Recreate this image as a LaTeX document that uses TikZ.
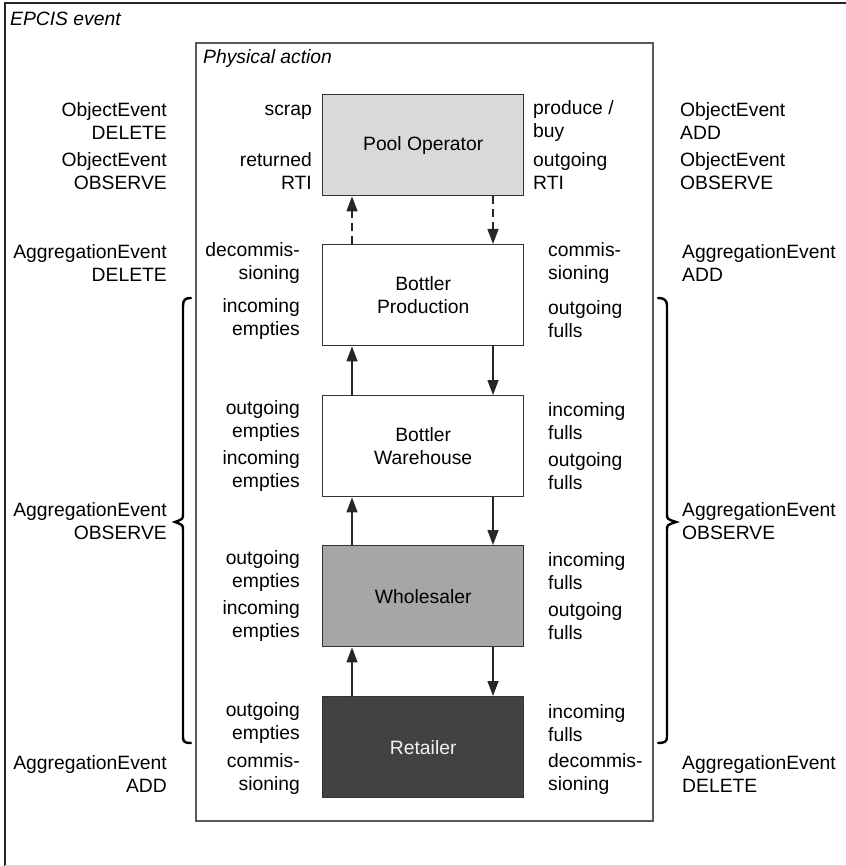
\documentclass[tikz,border=0pt]{standalone}
\usepackage{fontspec}
\setmainfont{Liberation Sans}
\usetikzlibrary{arrows.meta}
\definecolor{poolgray}{HTML}{D9D9D9}
\definecolor{wholegray}{HTML}{A6A6A6}
\definecolor{retailgray}{HTML}{424242}
\definecolor{edgegray}{HTML}{333333}
\begin{document}
\begin{tikzpicture}[x=1pt,y=-1pt,
  every node/.style={font=\fontsize{19.3}{23}\selectfont, inner sep=0pt},
  actor/.style={draw=edgegray, line width=1.4pt, minimum width=201pt, minimum height=101pt, align=center, anchor=north west},
  lleft/.style={anchor=east, align=right},
  lright/.style={anchor=west, align=left},
  flow/.style={draw=black!85, line width=1.4pt, -{Triangle[length=15pt,width=11pt]}},
  dflow/.style={flow, dash pattern=on 8pt off 5pt},
  bracestyle/.style={line width=2.4pt, line cap=round}
]
\useasboundingbox (0,0) rectangle (845,866);
% outer frame
\draw[black!85, line width=1.2pt] (850,3) -- (5,3) -- (5,870);
\draw[black!15, line width=1pt] (5,865) -- (850,865);
\node[anchor=west] (epcis) at (10,19) {\itshape EPCIS event};
% inner frame
\draw[black!65, line width=1.2pt] (196,43) rectangle (653,821);
\node[anchor=west] (phys) at (203,59) {\itshape Physical action};

% actors
\node[actor, fill=poolgray] (pool) at (322,94) {Pool Operator};
\node[actor, fill=white] (prod) at (322,244) {Bottler\\Production};
\node[actor, fill=white] (ware) at (322,395) {Bottler\\Warehouse};
\node[actor, fill=wholegray] (whole) at (322,545) {Wholesaler};
\node[actor, fill=retailgray, text=black!5] (ret) at (322,696) {Retailer};

% connectors
\coordinate (ux) at (352,0);
\coordinate (dx) at (493,0);
\draw[dflow] (prod.north -| ux) -- (pool.south -| ux);
\draw[dflow] (pool.south -| dx) -- (prod.north -| dx);
\draw[flow] (ware.north -| ux) -- (prod.south -| ux);
\draw[flow] (prod.south -| dx) -- (ware.north -| dx);
\draw[flow] (whole.north -| ux) -- (ware.south -| ux);
\draw[flow] (ware.south -| dx) -- (whole.north -| dx);
\draw[flow] (ret.north -| ux) -- (whole.south -| ux);
\draw[flow] (whole.south -| dx) -- (ret.north -| dx);

% inner left labels
\node[lleft] (il1) at (312,112) {scrap};
\node[lleft] (il2) at (312,171) {returned\\RTI};
\node[lleft] (il3) at (300,263) {decommis-\\sioning};
\node[lleft] (il4) at (300,319) {incoming\\empties};
\node[lleft] (il5) at (300,421) {outgoing\\empties};
\node[lleft] (il6) at (300,471) {incoming\\empties};
\node[lleft] (il7) at (300,571) {outgoing\\empties};
\node[lleft] (il8) at (300,621) {incoming\\empties};
\node[lleft] (il9) at (300,723) {outgoing\\empties};
\node[lleft] (il10) at (300,774) {commis-\\sioning};

% inner right labels
\node[lright] (ir1) at (533,121) {produce /\\buy};
\node[lright] (ir2) at (533,171) {outgoing\\RTI};
\node[lright] (ir3) at (548,263) {commis-\\sioning};
\node[lright] (ir4) at (548,319) {outgoing\\fulls};
\node[lright] (ir5) at (548,421) {incoming\\fulls};
\node[lright] (ir6) at (548,471) {outgoing\\fulls};
\node[lright] (ir7) at (548,571) {incoming\\fulls};
\node[lright] (ir8) at (548,621) {outgoing\\fulls};
\node[lright] (ir9) at (548,723) {incoming\\fulls};
\node[lright] (ir10) at (548,774) {decommis-\\sioning};

% outer left labels
\node[lleft] (ol1) at (167,121) {ObjectEvent\\DELETE};
\node[lleft] (ol2) at (167,171) {ObjectEvent\\OBSERVE};
\node[lleft] (ol3) at (167,263) {AggregationEvent\\DELETE};
\node[lleft] (ol4) at (167,521) {AggregationEvent\\OBSERVE};
\node[lleft] (ol5) at (167,774) {AggregationEvent\\ADD};

% outer right labels
\node[lright] (or1) at (680,121) {ObjectEvent\\ADD};
\node[lright] (or2) at (680,171) {ObjectEvent\\OBSERVE};
\node[lright] (or3) at (682,263) {AggregationEvent\\ADD};
\node[lright] (or4) at (682,521) {AggregationEvent\\OBSERVE};
\node[lright] (or5) at (682,774) {AggregationEvent\\DELETE};

% braces
\draw[bracestyle] (191,298) .. controls (185,298) and (183,300) .. (183,306)
  -- (183,514) .. controls (183,519) .. (175,522) .. controls (183,525) .. (183,530)
  -- (183,737) .. controls (183,742) and (185,743) .. (191,743);
\draw[bracestyle] (658,298) .. controls (664,298) and (667,300) .. (667,306)
  -- (667,514) .. controls (667,519) .. (676,522) .. controls (667,525) .. (667,530)
  -- (667,737) .. controls (667,742) and (664,743) .. (658,743);
\end{tikzpicture}
\end{document}
